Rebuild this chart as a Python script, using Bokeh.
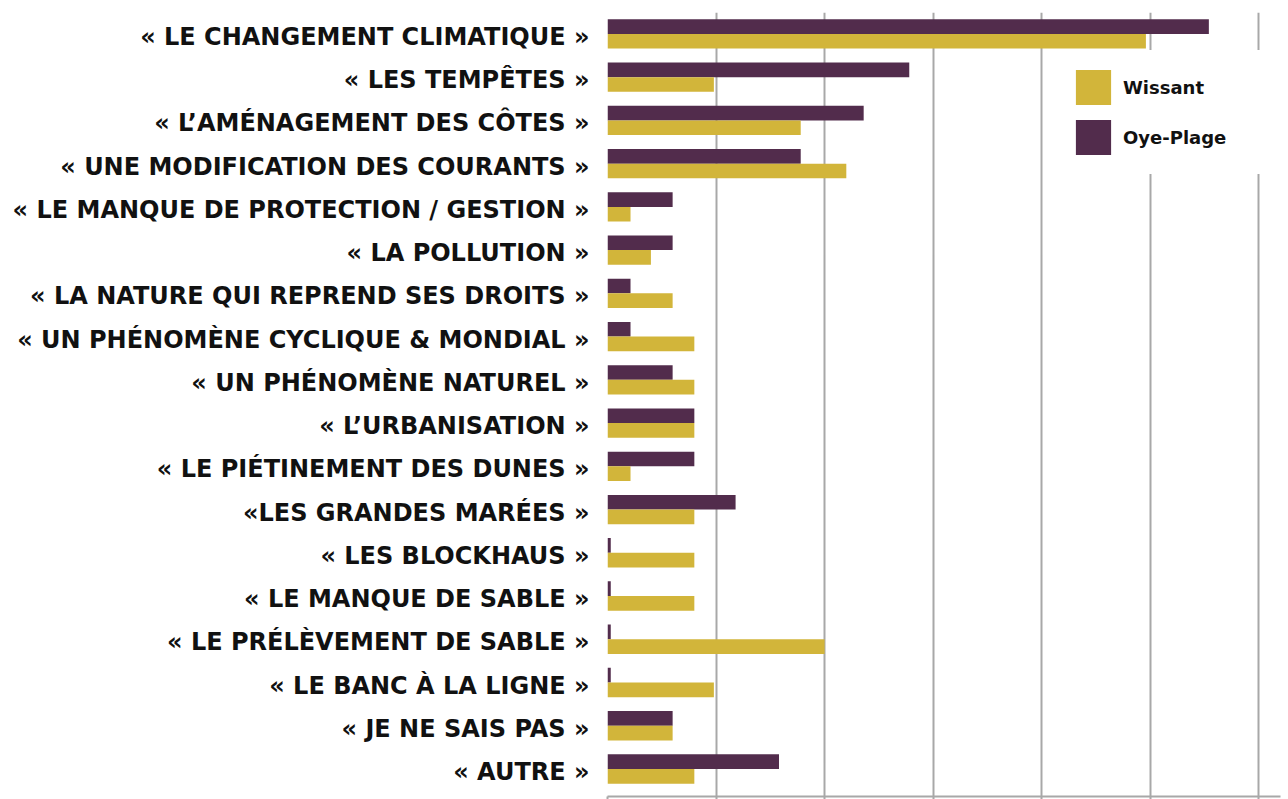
from bokeh.plotting import figure
from bokeh.models import (ColumnDataSource, FactorRange, Range1d, FixedTicker,
                          Legend, LegendItem)
from bokeh.transform import dodge
from bokeh.embed import file_html
from bokeh.resources import INLINE

categories = [
    "« LE CHANGEMENT CLIMATIQUE »",
    "« LES TEMPÊTES »",
    "« L’AMÉNAGEMENT DES CÔTES »",
    "« UNE MODIFICATION DES COURANTS »",
    "« LE MANQUE DE PROTECTION / GESTION »",
    "« LA POLLUTION »",
    "« LA NATURE QUI REPREND SES DROITS »",
    "« UN PHÉNOMÈNE CYCLIQUE & MONDIAL »",
    "« UN PHÉNOMÈNE NATUREL »",
    "« L’URBANISATION »",
    "« LE PIÉTINEMENT DES DUNES »",
    "«LES GRANDES MARÉES »",
    "« LES BLOCKHAUS »",
    "« LE MANQUE DE SABLE »",
    "« LE PRÉLÈVEMENT DE SABLE »",
    "« LE BANC À LA LIGNE »",
    "« JE NE SAIS PAS »",
    "« AUTRE »",
]
wissant = [24.8, 4.9, 8.9, 11.0, 1.06, 2.0, 3.0, 4.0, 4.0, 4.0, 1.06, 4.0, 4.0, 4.0, 10.0, 4.9, 3.0, 4.0]
oye_plage = [27.7, 13.9, 11.8, 8.9, 3.0, 3.0, 1.06, 1.06, 3.0, 4.0, 4.0, 5.9, 0.15, 0.15, 0.15, 0.15, 3.0, 7.9]
grid_ticks = [0, 5, 10, 15, 20, 25, 30]

PURPLE = "#522c4c"
YELLOW = "#d2b53a"
GRID = "#a8a8a8"
FONT = "DejaVu Sans"

src = ColumnDataSource(dict(cat=categories, wissant=wissant, oye=oye_plage))

p = figure(
    y_range=FactorRange(factors=list(reversed(categories)),
                        range_padding=0.065, range_padding_units="absolute"),
    x_range=Range1d(0, 31),
    frame_width=673, frame_height=784,
    min_border_left=607, min_border_top=12, min_border_right=8, min_border_bottom=3,
    output_backend="svg", toolbar_location=None,
)
p.outline_line_color = None
p.background_fill_color = "white"
p.border_fill_color = "white"

r_o = p.hbar(y=dodge("cat", 0.24, range=p.y_range), right="oye", left=0, height=0.34,
             source=src, fill_color=PURPLE, line_color=None)
r_w = p.hbar(y=dodge("cat", -0.10, range=p.y_range), right="wissant", left=0, height=0.34,
             source=src, fill_color=YELLOW, line_color=None)

p.ygrid.visible = False
p.xgrid.ticker = FixedTicker(ticks=grid_ticks)
p.xgrid.grid_line_color = GRID
p.xgrid.grid_line_width = 2
p.xgrid.level = "underlay"

xa = p.xaxis[0]
xa.ticker = FixedTicker(ticks=grid_ticks)
xa.axis_line_color = GRID
xa.axis_line_width = 2
xa.major_tick_line_color = GRID
xa.major_tick_line_width = 2
xa.major_tick_out = 3
xa.major_tick_in = 0
xa.minor_tick_line_color = None
xa.major_label_overrides = {t: "" for t in grid_ticks}
xa.major_label_standoff = 0

ya = p.yaxis[0]
ya.axis_line_color = None
ya.major_tick_line_color = None
ya.minor_tick_line_color = None
ya.major_label_standoff = 12
ya.major_label_text_font = FONT
ya.major_label_text_font_style = "bold"
ya.major_label_text_font_size = "24px"
ya.major_label_text_color = "#111111"

legend = Legend(
    items=[LegendItem(label="Wissant", renderers=[r_w]),
           LegendItem(label="Oye-Plage", renderers=[r_o])],
    location=(449, 622),
    glyph_width=44, glyph_height=44, spacing=6, padding=14,
    label_standoff=8, label_width=150,
    label_text_font=FONT, label_text_font_style="bold", label_text_font_size="18px",
    label_text_color="#111111",
    border_line_color="white", border_line_width=1,
    background_fill_color="white", background_fill_alpha=1.0,
    margin=0,
)
p.add_layout(legend, "center")

open("out.html", "w").write(file_html(p, INLINE))
